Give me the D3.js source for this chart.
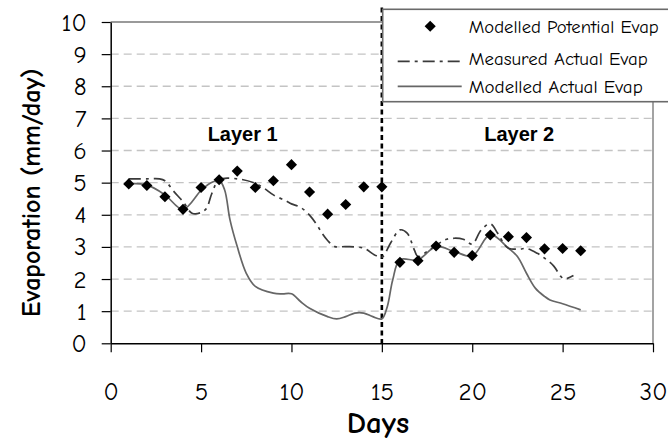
<!DOCTYPE html>
<html>
<head>
<meta charset="utf-8">
<script src="https://cdn.jsdelivr.net/npm/d3@7"></script>
<style>
  html, body { margin: 0; padding: 0; background: #fff; }
  svg { display: block; }
</style>
</head>
<body>
<svg id="chart" width="668" height="441"></svg>
<script>
// ---- Data ----
const potentialDays = [1,2,3,4,5,6,7,8,9,10,11,12,13,14,15,16,17,18,19,20,21,22,23,24,25,26];
const potentialEvap = [4.96,4.91,4.56,4.17,4.85,5.09,5.36,4.85,5.06,5.56,4.71,4.02,4.32,4.87,4.87,2.52,2.57,3.03,2.83,2.73,3.37,3.32,3.29,2.94,2.95,2.88];

const measuredDays = [1,2,2.7,3,3.5,4,4.5,5,5.3,5.6,6,7,8,8.5,9,9.7,10,10.5,11,11.4,11.7,12,12.4,13,14,14.6,15,15.5,16,16.4,16.8,17,17.5,18,18.5,19,19.5,20,20.5,21,21.4,21.8,22,22.6,23,23.6,24,24.5,24.9,25.1,25.6];
const measuredEvap = [5.12,5.12,5.12,5.06,4.72,4.41,4.05,4.07,4.2,4.67,5.09,5.12,4.98,4.82,4.62,4.43,4.34,4.23,3.99,3.69,3.42,3.2,3.01,3.01,2.96,2.75,2.68,3.14,3.53,3.43,2.9,2.7,2.86,3.05,3.22,3.27,3.24,3.09,3.53,3.72,3.43,3.06,2.96,2.93,2.95,2.8,2.65,2.41,2.08,2.0,2.11];

const modelledDays = [1,2,3,4,5,5.5,6,6.3,6.6,7,7.5,8,9,9.5,10,10.5,11,12,12.5,13,13.5,14,14.5,15,15.3,15.6,16,17,18,19,20,21,22,22.5,23,23.5,24,24.3,25,26];
const modelledEvap = [4.98,4.93,4.62,4.17,4.76,4.98,5.07,4.78,3.84,3.01,2.18,1.77,1.56,1.54,1.54,1.3,1.09,0.83,0.76,0.83,0.94,0.94,0.83,0.76,1.14,1.97,2.6,2.6,3.01,2.86,2.72,3.38,2.96,2.7,2.18,1.71,1.46,1.35,1.23,1.04];

const xTicks = [0,5,10,15,20,25,30];
const yTicks = [0,1,2,3,4,5,6,7,8,9,10];
const gridValues = [1,2,3,4,5,6,7,8,9];
const layerBoundary = [15];
const layerLabels = ["Layer 1", "Layer 2"];
const layerLabelDays = [7.3, 22.6];
const layerLabelValue = 6.3;
const legendLabels = ["Modelled Potential Evap", "Measured Actual Evap", "Modelled Actual Evap"];
const xTitle = "Days";
const yTitle = "Evaporation (mm/day)";

// ---- Layout ----
const W = 668, H = 441;
const margin = {left: 110.7, top: 22, right: 15, bottom: 97.7};
const svg = d3.select("#chart");
const comic = "'Comic Sans MS', 'Comic Neue', 'DejaVu Sans', sans-serif";

const x = d3.scaleLinear().domain([0, 30]).range([margin.left, W - margin.right]);
const y = d3.scaleLinear().domain([0, 10]).range([H - margin.bottom, margin.top]);

// gridlines
svg.append("g").selectAll("line").data(gridValues).join("line")
  .attr("x1", x(0)).attr("x2", x(30))
  .attr("y1", d => y(d)).attr("y2", d => y(d))
  .attr("stroke", "#c4c4c4").attr("stroke-width", 1.3)
  .attr("stroke-dasharray", "8,5");

// plot border top & right
svg.append("path")
  .attr("d", `M${x(0)},${y(10)}H${x(30)}V${y(0)}`)
  .attr("fill", "none").attr("stroke", "#9a9a9a").attr("stroke-width", 1.8);

// axes
const xAxis = d3.axisBottom(x).tickValues(xTicks).tickSize(9).tickPadding(30).tickSizeOuter(0);
const yAxis = d3.axisLeft(y).tickValues(yTicks).tickSize(9).tickPadding(15).tickSizeOuter(0);

const gx = svg.append("g").attr("transform", `translate(0,${y(0)})`).call(xAxis);
const gy = svg.append("g").attr("transform", `translate(${x(0)},0)`).call(yAxis);
[gx, gy].forEach(g => {
  g.select(".domain").attr("stroke", "#000").attr("stroke-width", 1.5);
  g.selectAll(".tick line").attr("stroke", "#000").attr("stroke-width", 1.2);
  g.selectAll(".tick text").attr("fill", "#000").style("font-family", comic).style("font-size", "25px");
});

// layer boundary
svg.append("g").selectAll("line").data(layerBoundary).join("line")
  .attr("x1", d => x(d)).attr("x2", d => x(d))
  .attr("y1", y(10.45)).attr("y2", y(0))
  .attr("stroke", "#000").attr("stroke-width", 2.6)
  .attr("stroke-dasharray", "5,3.5");

// layer labels
svg.append("g").selectAll("text").data(layerLabels).join("text")
  .attr("x", (d, i) => x(layerLabelDays[i]))
  .attr("y", y(layerLabelValue))
  .attr("text-anchor", "middle")
  .style("font-family", "'Liberation Sans', Arial, sans-serif")
  .style("font-weight", "bold").style("font-size", "20px")
  .text(d => d);

// lines
const lineGen = d3.line().curve(d3.curveCatmullRom.alpha(0.5));
const measuredPts = measuredDays.map((d, i) => [x(d), y(measuredEvap[i])]);
const modelledPts = modelledDays.map((d, i) => [x(d), y(modelledEvap[i])]);

svg.append("path").attr("d", lineGen(modelledPts))
  .attr("fill", "none").attr("stroke", "#666").attr("stroke-width", 1.7);

svg.append("path").attr("d", lineGen(measuredPts))
  .attr("fill", "none").attr("stroke", "#3a3a3a").attr("stroke-width", 1.7)
  .attr("stroke-dasharray", "12,5,3,5");

// diamonds
const diamond = d3.symbol().type(d3.symbolSquare).size(62);
svg.append("g").selectAll("path").data(potentialDays).join("path")
  .attr("d", diamond)
  .attr("transform", (d, i) => `translate(${x(d)},${y(potentialEvap[i])}) rotate(45)`)
  .attr("fill", "#000");

// axis titles
svg.append("text")
  .attr("x", x(15) - 4).attr("y", 433)
  .attr("text-anchor", "middle")
  .style("font-family", comic).style("font-weight", "bold").style("font-size", "31px")
  .text(xTitle);

svg.append("text")
  .attr("transform", `translate(40,${(y(0) + y(10)) / 2 + 10}) rotate(-90)`)
  .attr("text-anchor", "middle")
  .style("font-family", comic).style("font-weight", "bold").style("font-size", "26px")
  .text(yTitle);

// legend
const lg = svg.append("g").attr("transform", "translate(382.7,9.3)");
lg.append("rect").attr("width", 290).attr("height", 92.4)
  .attr("fill", "#fff").attr("stroke", "#6a6a6a").attr("stroke-width", 1.6);
const rowY = [17, 49, 77];
const legendTextWidth = [190, 179, 174];
lg.append("path").attr("d", diamond)
  .attr("transform", `translate(47.5,${rowY[0]}) rotate(45)`).attr("fill", "#000");
lg.append("line").attr("x1", 15).attr("x2", 79).attr("y1", rowY[1]+3).attr("y2", rowY[1]+3)
  .attr("stroke", "#3a3a3a").attr("stroke-width", 1.7).attr("stroke-dasharray", "12,5,3,5");
lg.append("line").attr("x1", 15).attr("x2", 79).attr("y1", rowY[2]).attr("y2", rowY[2])
  .attr("stroke", "#666").attr("stroke-width", 1.7);
lg.selectAll("text.lab").data(legendLabels).join("text").attr("class", "lab")
  .attr("x", 86).attr("y", (d, i) => rowY[i]).attr("dy", "0.35em")
  .attr("textLength", (d, i) => legendTextWidth[i])
  .attr("lengthAdjust", "spacingAndGlyphs")
  .style("font-family", comic).style("font-size", "19px")
  .text(d => d);
</script>
</body>
</html>
